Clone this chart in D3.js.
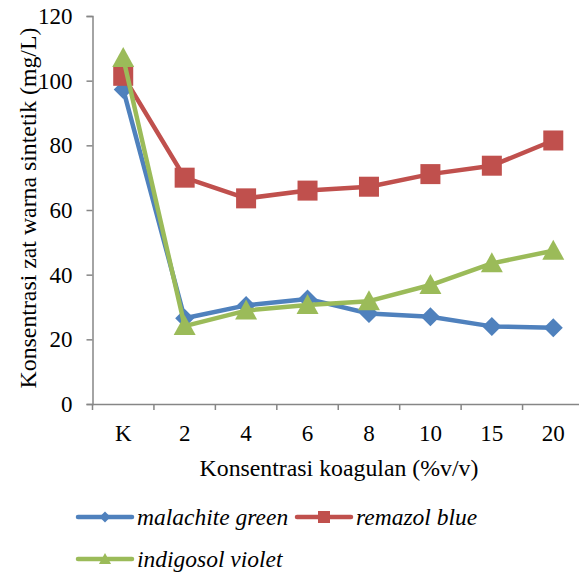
<!DOCTYPE html>
<html><head><meta charset="utf-8">
<script src="https://cdn.jsdelivr.net/npm/d3@7"></script>
<style>body{margin:0;background:#fff}svg{display:block}</style>
</head><body>
<script>
const categories = ["K","2","4","6","8","10","15","20"];
const malachiteGreen = [97.3, 26.5, 30.5, 32.5, 28.0, 27.0, 24.0, 23.6];
const remazolBlue = [101.5, 70.0, 63.6, 66.0, 67.2, 71.1, 73.7, 81.5];
const indigosolViolet = [107.0, 24.1, 28.9, 30.6, 31.8, 36.8, 43.5, 47.4];
const yTicks = [0,20,40,60,80,100,120];
const seriesNames = ["malachite green","remazol blue","indigosol violet"];
const colors = ["#4F81BD","#C0504D","#9BBB59"];
const shapes = ["diamond","square","triangle"];

(function(){
const W=579,H=573;
const svg=d3.select("body").append("svg").attr("width",W).attr("height",H);
const pLeft=92.5, pRight=584, pTop=16, pBottom=404;
const x=d3.scaleBand().domain(categories).range([pLeft,pRight]);
const y=d3.scaleLinear().domain([0,120]).range([pBottom,pTop]);
const axisColor="#868686";
const font="Liberation Serif, serif";
const fs=23;

// Y axis
const ya=svg.append("g").attr("transform",`translate(${pLeft},0)`)
  .call(d3.axisLeft(y).tickValues(yTicks).tickSize(6).tickPadding(14));
ya.select(".domain").attr("stroke",axisColor).attr("stroke-width",1.5);
ya.selectAll(".tick line").attr("stroke",axisColor).attr("stroke-width",1.5);
ya.selectAll(".tick text").attr("font-family",font).attr("font-size",fs).attr("fill","#000");

// X axis
const xa=svg.append("g").attr("transform",`translate(0,${pBottom})`)
  .call(d3.axisBottom(x).tickSize(0));
xa.select(".domain").attr("stroke",axisColor).attr("stroke-width",1.5);
xa.selectAll(".tick text").attr("y",37).attr("dy",0).attr("font-family",font).attr("font-size",fs).attr("fill","#000");
const edges=categories.map(c=>x(c)).concat([x.range()[1]]);
svg.append("g").selectAll("line").data(edges).join("line")
  .attr("x1",d=>d).attr("x2",d=>d).attr("y1",pBottom).attr("y2",pBottom+6)
  .attr("stroke",axisColor).attr("stroke-width",1.5);

// Titles
svg.append("text").attr("transform",`translate(36,208) rotate(-90)`)
  .attr("text-anchor","middle").attr("font-family",font).attr("font-size",23.8)
  .text("Konsentrasi zat warna sintetik (mg/L)");
svg.append("text").attr("x",339).attr("y",476).attr("text-anchor","middle")
  .attr("font-family",font).attr("font-size",23.8)
  .text("Konsentrasi koagulan (%v/v)");

const cx=c=>x(c)+x.bandwidth()/2;
function marker(sel,shape,size){
  if(shape==="diamond") return sel.append("path").attr("d",`M0,${-size/2}L${size/2},0L0,${size/2}L${-size/2},0Z`);
  if(shape==="square") return sel.append("rect").attr("x",-size/2).attr("y",-size/2).attr("width",size).attr("height",size);
  return sel.append("path").attr("d",`M0,${-size*0.55}L${size*0.55},${size*0.45}L${-size*0.55},${size*0.45}Z`);
}
const data=[malachiteGreen,remazolBlue,indigosolViolet];
const msize=[19,20,20];
data.forEach((vals,i)=>{
  const g=svg.append("g");
  const line=d3.line().x((d,j)=>cx(categories[j])).y(d=>y(d));
  g.append("path").attr("d",line(vals)).attr("fill","none").attr("stroke",colors[i])
    .attr("stroke-width",4.5).attr("stroke-linejoin","round");
  vals.forEach((v,j)=>{
    const m=g.append("g").attr("transform",`translate(${cx(categories[j])},${y(v)})`);
    marker(m,shapes[i],msize[i]).attr("fill",colors[i]);
  });
});

// Legend
const legendPos=[[78,517],[297,517],[78,559]];
seriesNames.forEach((n,i)=>{
  const [lx,ly]=legendPos[i];
  const g=svg.append("g").attr("transform",`translate(${lx},${ly})`);
  g.append("line").attr("x1",0).attr("x2",54).attr("y1",0).attr("y2",0)
    .attr("stroke",colors[i]).attr("stroke-width",4.5).attr("stroke-linecap","round");
  const m=g.append("g").attr("transform","translate(27,0)");
  marker(m,shapes[i],i===1?12:11).attr("fill",colors[i]);
  g.append("text").attr("x",59).attr("y",8).attr("font-family",font).attr("font-size",23.5)
    .attr("font-style","italic").text(n);
});
})();
</script>
</body></html>
